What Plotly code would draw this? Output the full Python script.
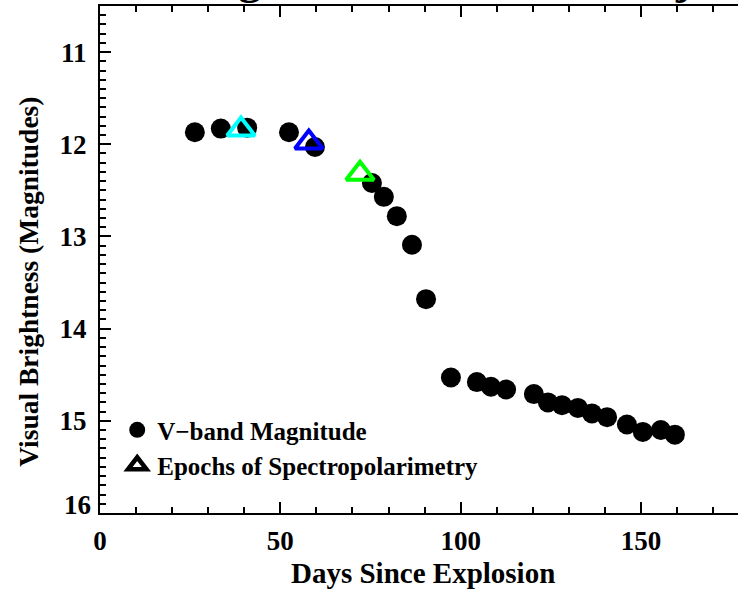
import plotly.graph_objects as go

# ---- data ----
vband_days = [26.3, 33.5, 40.8, 52.4, 59.6, 75.4, 78.7, 82.3, 86.5, 90.4,
              97.3, 104.5, 108.4, 112.6, 120.3, 124.2, 128.1, 132.5, 136.4,
              140.6, 146.1, 150.5, 155.5, 159.4]
vband_mag = [11.87, 11.83, 11.82, 11.87, 12.03, 12.42, 12.57, 12.78, 13.09, 13.68,
             14.53, 14.58, 14.63, 14.66, 14.71, 14.80, 14.83, 14.86, 14.92,
             14.96, 15.04, 15.12, 15.10, 15.15]
epoch_days = [39.1, 57.9, 72.1]
epoch_mag = [11.84, 11.98, 12.32]
epoch_colors = ["#00FFFF", "#0000FF", "#00FF00"]
x_ticks = [0, 50, 100, 150]
y_ticks = [11, 12, 13, 14, 15, 16]
y_ticktext = ["11", "12", "13", "14", "15", ""]   # "16" drawn slightly raised, as in the original

FONT = "Liberation Serif"

fig = go.Figure()
fig.add_trace(go.Scatter(
    x=vband_days, y=vband_mag, mode="markers", name="V\u2212band Magnitude",
    marker=dict(symbol="circle", size=20, color="black", line=dict(width=0)),
))
fig.add_trace(go.Scatter(
    x=[None], y=[None], mode="markers", name="Epochs of Spectropolarimetry",
    legendgroup="ep",
    marker=dict(symbol="triangle-up-open", size=24, color="black",
                line=dict(width=4.5, color="black")),
))
fig.add_trace(go.Scatter(
    x=epoch_days, y=epoch_mag, mode="markers", showlegend=False, legendgroup="ep",
    marker=dict(symbol="triangle-up-open", size=24, color=epoch_colors,
                line=dict(width=4, color=epoch_colors)),
))

tickfont = dict(family=FONT, size=27, color="black", weight="bold")

fig.update_xaxes(
    range=[0, 176.9], tickvals=x_ticks, showline=True, linecolor="black", linewidth=2,
    mirror="ticks", ticks="inside", ticklen=11, tickwidth=1.5, tickcolor="black",
    minor=dict(dtick=10, tick0=0, ticks="inside", ticklen=6, tickwidth=1.5, tickcolor="black"),
    showgrid=False, zeroline=False, tickfont=tickfont, ticklabelstandoff=3,
    automargin=False,
)
fig.update_yaxes(
    range=[16, 10.5], tickvals=y_ticks, ticktext=y_ticktext, showline=True,
    linecolor="black", linewidth=2,
    mirror=False, ticks="inside", ticklen=11, tickwidth=1.5, tickcolor="black",
    minor=dict(dtick=0.1, tick0=0, ticks="inside", ticklen=6, tickwidth=1.5, tickcolor="black"),
    showgrid=False, zeroline=False, tickfont=tickfont, ticklabelstandoff=6,
    automargin=False,
)

fig.update_layout(
    width=738, height=593,
    margin=dict(l=100, r=0, t=6, b=80),
    paper_bgcolor="white", plot_bgcolor="white",
    legend=dict(x=0.027, y=0.209, xanchor="left", yanchor="top",
                font=dict(family=FONT, size=25, color="black", weight="bold"),
                bgcolor="rgba(0,0,0,0)", borderwidth=0, tracegroupgap=0),
    annotations=[
        dict(text="Light Curve of SN 2004dj", xref="paper", yref="paper",
             x=0.539, y=1.0, yshift=0, xanchor="center", yanchor="bottom", showarrow=False,
             font=dict(family=FONT, size=45, color="black", weight="bold")),
        dict(text="Days Since Explosion", xref="paper", yref="paper",
             x=0.506, y=-0.118, xanchor="center", yanchor="middle", showarrow=False,
             font=dict(family=FONT, size=29, color="black", weight="bold")),
        dict(text="Visual Brightness (Magnitudes)", xref="paper", yref="paper",
             x=-0.1113, y=0.456, xanchor="center", yanchor="middle", showarrow=False,
             textangle=-90,
             font=dict(family=FONT, size=27.5, color="black", weight="bold")),
        dict(text=str(y_ticks[-1]), xref="paper", yref="y", x=0, y=y_ticks[-1],
             xanchor="right", yanchor="middle", xshift=-7, yshift=8, showarrow=False,
             font=tickfont),
    ],
)

fig.write_html("out.html", config={"displayModeBar": False},
               post_script="document.body.style.margin='0px';document.body.style.overflow='hidden';")
